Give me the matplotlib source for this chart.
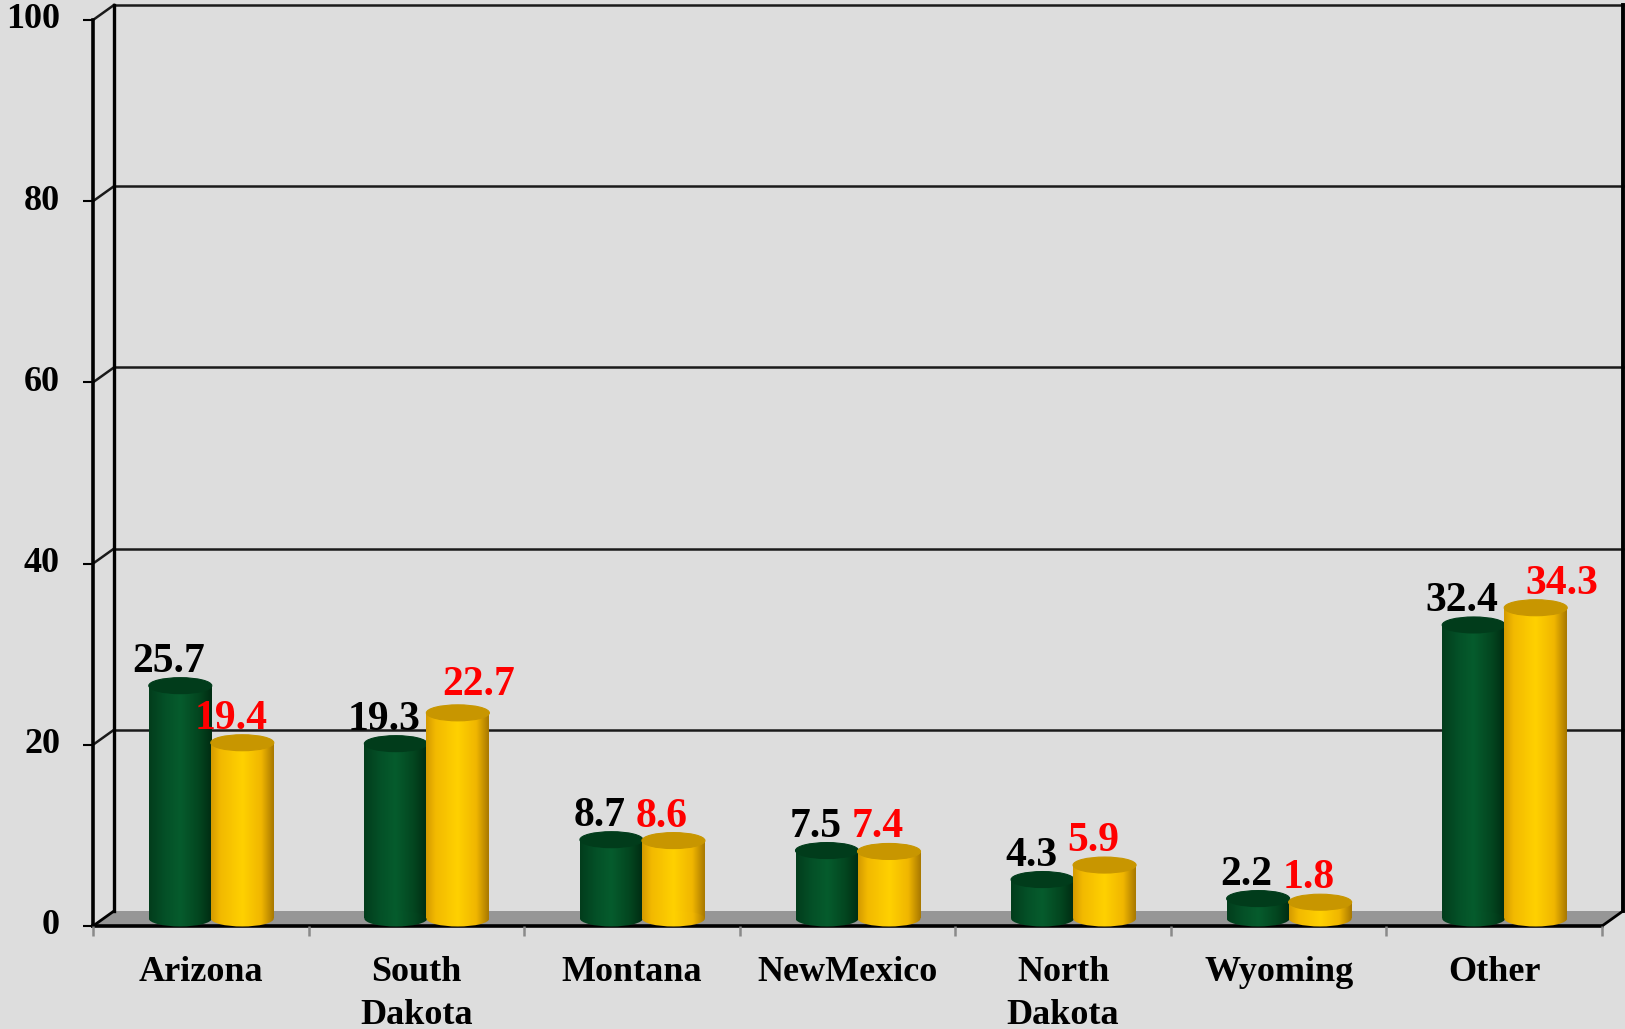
import numpy as np
import matplotlib.pyplot as plt
from matplotlib import transforms
from matplotlib.patches import Ellipse, Rectangle, Polygon
from matplotlib.colors import LinearSegmentedColormap

# data
states = ["Arizona", "South\nDakota", "Montana", "NewMexico", "North\nDakota", "Wyoming", "Other"]
green_vals = [25.7, 19.3, 8.7, 7.5, 4.3, 2.2, 32.4]
gold_vals = [19.4, 22.7, 8.6, 7.4, 5.9, 1.8, 34.3]
y_ticks = [0, 20, 40, 60, 80, 100]

# label nudges in pixels (a couple of the red labels are moved right in the original)
gold_nudge = {1: (32, 4), 6: (38, 0)}

W, H = 1625, 1029
fig = plt.figure(figsize=(W / 100, H / 100), dpi=100)
fig.patch.set_facecolor("#dddddd")

# back wall of the 3d box
ax = fig.add_axes([114 / W, (H - 911) / H, (1623 - 114) / W, (911 - 5) / H])
ax.set_xlim(-0.5, 6.5)
ax.set_ylim(0, 100)
ax.axis("off")

# depth offset (front plane vs back wall), converted to data units
p0 = ax.transData.transform((0, 0))
p1 = ax.transData.transform((1, 1))
px_x = p1[0] - p0[0]
px_y = p1[1] - p0[1]
ddx = -21 / px_x
ddy = -15 / px_y

font = dict(family="Liberation Serif", fontweight="bold")
n = len(states)

# floor
floor = Polygon([(-0.5, 0), (n - 0.5, 0), (n - 0.5 + ddx, ddy), (-0.5 + ddx, ddy)],
                closed=True, facecolor="#969696", edgecolor="none", zorder=1, clip_on=False)
ax.add_patch(floor)
ax.plot([-0.5 + ddx, n - 0.5 + ddx], [ddy, ddy], color="black", lw=2.6, zorder=2, clip_on=False)
ax.plot([n - 0.5 + ddx, n - 0.5], [ddy, 0], color="black", lw=2, zorder=2, clip_on=False)
ax.plot([-0.5 + ddx, -0.5], [ddy, 0], color="black", lw=2, zorder=2, clip_on=False)

# gridlines on back wall + diagonals on the side wall
for v in y_ticks[1:]:
    ax.plot([-0.5, n - 0.5], [v, v], color="#1a1a1a", lw=1.8, zorder=1, clip_on=False)
    ax.plot([-0.5 + ddx, -0.5], [v + ddy, v], color="#1a1a1a", lw=1.8, zorder=1, clip_on=False)
ax.plot([-0.5, -0.5], [0, 100], color="black", lw=2.4, zorder=1, clip_on=False)
ax.plot([n - 0.5, n - 0.5], [0, 100], color="black", lw=2.8, zorder=1, clip_on=False)

# front value axis
ax.plot([-0.5 + ddx, -0.5 + ddx], [ddy, 100 + ddy], color="black", lw=2.6, zorder=2, clip_on=False)
for v in y_ticks:
    ax.plot(-0.5 + ddx, v + ddy, marker=0, markersize=7.5, mew=1.5, color="black", clip_on=False, zorder=2)
    ax.text(-0.5 + ddx, v + ddy, str(v), ha="right", va="center", fontsize=26, color="black",
            transform=ax.transData + transforms.ScaledTranslation(-0.33, 0, fig.dpi_scale_trans), **font)

# category ticks and labels
for i in range(n + 1):
    ax.plot(i - 0.5 + ddx, ddy, marker=3, markersize=7.5, mew=1.8, color="#8a8a8a", clip_on=False, zorder=2)
lab_tr = ax.transData + transforms.ScaledTranslation(0, -0.3, fig.dpi_scale_trans)
for i, s in enumerate(states):
    ax.text(i + ddx, ddy, s, ha="center", va="top", fontsize=26, linespacing=1.42,
            transform=lab_tr, **font)

# cylinders
green_cmap = LinearSegmentedColormap.from_list("g", [(0, "#023d1c"), (0.25, "#045027"),
                                                     (0.5, "#065c2d"), (0.8, "#03451f"), (1, "#002c12")])
gold_cmap = LinearSegmentedColormap.from_list("y", [(0, "#d49a00"), (0.15, "#f2b900"), (0.5, "#ffd100"),
                                                    (0.8, "#f0b600"), (1, "#a87800")])
bw = 63 / px_x
sep = 62 / px_x
eh = 16 / px_y
grad = np.linspace(0, 1, 256).reshape(1, -1)


def cylinder(xc, base, top, cmap, top_color, z):
    x0 = xc - bw / 2
    body = Rectangle((x0, base), bw, top - base, transform=ax.transData)
    bottom = Ellipse((xc, base), bw, eh, transform=ax.transData)
    for clip in (body, bottom):
        im = ax.imshow(grad, cmap=cmap, extent=[x0, x0 + bw, base - eh, top], aspect="auto",
                       interpolation="bicubic", origin="lower", zorder=z)
        im.set_clip_box(fig.bbox)
        im.set_clip_path(clip)
    ax.add_patch(Ellipse((xc, top), bw, eh, facecolor=top_color, edgecolor=top_color,
                         lw=0.8, zorder=z + 0.1, clip_on=False))


mid_x = ddx / 2
mid_y = ddy / 2
lbl_tr = ax.transData + transforms.ScaledTranslation(-0.115, 0.14, fig.dpi_scale_trans)
for i in range(n):
    xg = i - sep / 2 + mid_x
    xy = i + sep / 2 + mid_x
    cylinder(xg, mid_y, green_vals[i] + mid_y, green_cmap, "#013c1b", 3)
    cylinder(xy, mid_y, gold_vals[i] + mid_y, gold_cmap, "#c89600", 4)
    ax.text(xg, green_vals[i] + mid_y, f"{green_vals[i]}", ha="center", va="baseline",
            fontsize=30, color="black", transform=lbl_tr, zorder=6, **font)
    nx, ny = gold_nudge.get(i, (0, 0))
    tr = lbl_tr + transforms.ScaledTranslation(nx / 100, ny / 100, fig.dpi_scale_trans)
    ax.text(xy, gold_vals[i] + mid_y, f"{gold_vals[i]}", ha="center", va="baseline",
            fontsize=30, color="#ff0000", transform=tr, zorder=6, **font)

ax.set_xlim(-0.5, 6.5)
ax.set_ylim(0, 100)

fig.savefig("out.png", dpi=100, facecolor=fig.get_facecolor())
